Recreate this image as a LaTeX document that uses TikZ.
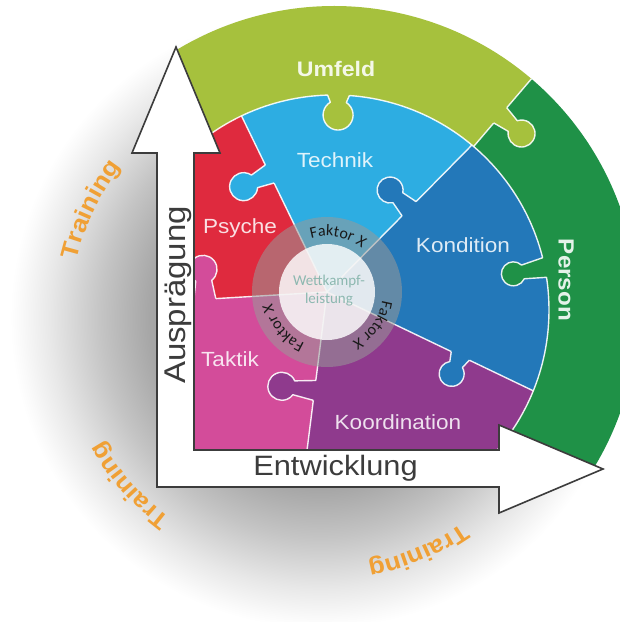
\documentclass[tikz,border=0pt]{standalone}
\usepackage{fontspec}
\newfontfamily\lblfont{Liberation Sans}[FakeStretch=1.1]
\newfontfamily\fxfont{Carlito}
\usetikzlibrary{calc,decorations.text}

\definecolor{umfeld}{HTML}{A6C13D}
\definecolor{person}{HTML}{1F9147}
\definecolor{technik}{HTML}{2DADE2}
\definecolor{kondition}{HTML}{2378B9}
\definecolor{koordination}{HTML}{8F3A8D}
\definecolor{taktik}{HTML}{D34C9A}
\definecolor{psyche}{HTML}{DF2A3E}
\definecolor{training}{HTML}{F0A035}
\definecolor{axisgray}{HTML}{3C3C3C}
\definecolor{wkgray}{HTML}{8CB8B0}

\pgfdeclareradialshading{ringshadow}{\pgfpoint{0bp}{0bp}}{color(0bp)=(black!42); color(13.7bp)=(black!35); color(17.7bp)=(black!23); color(21.8bp)=(black!9); color(24.2bp)=(black!2); color(25bp)=(white); color(50bp)=(white)}

\begin{document}
\begin{tikzpicture}[x=1pt, y=1pt,
    seamline/.style={white, line width=1.4pt, opacity=.9},
    piecetext/.style={font=\lblfont\fontsize{20.5}{20.5}\selectfont},
    ringtext/.style={font=\lblfont\bfseries\fontsize{21}{21}\selectfont},
    axistext/.style={text=axisgray, font=\lblfont\fontsize{28}{28}\selectfont}]
    % knob: frame, position, offset, radius, half neck, colour
    \def\knob#1#2#3#4#5#6{
        \begin{scope}[#1]
            \fill[#6] ({#2-#5-3},-2) -- ({#2-#5-3},0) -- ({#2-#5},{#3-sqrt(#4*#4-#5*#5)})
                arc[start angle={180+acos(#5/#4)}, end angle={-acos(#5/#4)}, radius=#4]
                -- ({#2+#5+3},0) -- ({#2+#5+3},-2) -- cycle;
            \draw[seamline, line join=round] ({#2-#5-3},0) -- ({#2-#5},{#3-sqrt(#4*#4-#5*#5)})
                arc[start angle={180+acos(#5/#4)}, end angle={-acos(#5/#4)}, radius=#4]
                -- ({#2+#5+3},0);
        \end{scope}}
    % inner and outer radius
    \def\ri{215}
    \def\ro{304}

    \path[use as bounding box] (0,0) rectangle (620,622);
    \clip (0,0) rectangle (620,622);
    \coordinate (O) at (334,312);
    \coordinate (F) at (327,330);
    \coordinate (T) at (320,304);

    \shade[shading=ringshadow] (T) circle (310);

    \begin{scope}
        \clip (176,575) -- (176,640) -- (640,640) -- (640,153) -- (157,153) -- (157,469) -- cycle;
        \fill[umfeld] ($(O)+(49.5:\ri)$) arc[start angle=49.5, end angle=150, radius=\ri]
            -- ($(O)+(150:\ro)$) arc[start angle=150, end angle=49.5, radius=\ro] -- cycle;
        \fill[person] ($(O)+(-40:\ri)$) arc[start angle=-40, end angle=49.5, radius=\ri]
            -- ($(O)+(49.5:\ro)$) arc[start angle=49.5, end angle=-40, radius=\ro] -- cycle;
        \begin{scope}
            \clip (O) circle (\ri);
            \fill[psyche] (F) -- ($(F)+(115.9:600)$) -- ($(F)+(183.4:600)$) -- cycle;
            \fill[technik] (F) -- ($(F)+(45.4:600)$) -- ($(F)+(115.9:600)$) -- cycle;
            \fill[kondition] (F) -- ($(F)+(-25.6:600)$) -- ($(F)+(45.4:600)$) -- cycle;
            \fill[koordination] (F) -- ($(F)+(-97.2:600)$) -- ($(F)+(-25.6:600)$) -- cycle;
            \fill[taktik] (F) -- ($(F)+(183.4:600)$) -- ($(F)+(262.8:600)$) -- cycle;
            \foreach \a in {115.9,45.4,-25.6,-97.2,183.4}
                \draw[seamline] (F) -- ++(\a:400);
        \end{scope}
        \draw[seamline] (O) circle (\ri);
        \draw[seamline] ($(O)+(49.5:\ri)$) -- ($(O)+(49.5:\ro)$);

        \knob{shift={(F)}, rotate=115.9}{131.2}{29}{14}{7}{technik}
        \knob{shift={(F)}, rotate=45.4}{116.9}{26.7}{13}{7}{kondition}
        \knob{shift={(F)}, rotate=-25.6, yscale=-1}{147.8}{20}{12.5}{7}{kondition}
        \knob{shift={(F)}, rotate=-97.2, yscale=-1}{99.2}{33}{14}{7}{koordination}
        \knob{shift={(F)}, rotate=183.4, yscale=-1}{122.4}{30}{14}{8}{taktik}
        \knob{shift={(O)}, rotate=49.5, yscale=-1}{256}{28}{13.5}{7}{umfeld}
        \knob{shift={($(O)+(88.8:\ri)$)}, rotate=-1.2, yscale=-1}{0}{20}{15}{8}{umfeld}
        \knob{shift={($(O)+(11.4:\ri)$)}, rotate=-78.6, yscale=-1}{0}{32}{12}{7}{person}
    \end{scope}

    % centre
    \fill[gray!80!white, opacity=.55] (F) circle (75);
    \fill[white, opacity=.82] (F) circle (48);
    \foreach \c in {79,219,-36}
        \path[decorate, decoration={text along path, text align=center, text color=black!90,
            text={|\fxfont\fontsize{16}{16}\selectfont|Faktor X}}]
            ($(F)+(\c+40:56)$) arc[start angle=\c+40, end angle=\c-40, radius=56];
    \node (wk) at (329,331) [align=center, text=wkgray, font=\fxfont\fontsize{15}{18}\selectfont] {Wettkampf-\\leistung};

    \node (umfeldtext) at (336,553) [ringtext, text=umfeld!12!white] {Umfeld};
    \node (persontext) at (566,342) [ringtext, rotate=-90, text=person!12!white, font=\lblfont\bfseries\fontsize{22}{22}\selectfont] {Person};
    \node (technik) at (335,461.5) [piecetext, text=technik!15!white] {Technik};
    \node (psyche) at (240,394) [piecetext, text=psyche!15!white] {Psyche};
    \node (kondition) at (463,376.5) [piecetext, text=kondition!15!white] {Kondition};
    \node (taktik) at (230,262.5) [piecetext, text=taktik!15!white] {Taktik};
    \node (koordination) at (398,199.5) [piecetext, text=koordination!15!white] {Koordination};

    % axes
    \draw[axisgray, line width=1.6pt, fill=white] (157,135) -- (499,135) -- (499,109) -- (603,153) -- (499,197)
        -- (499,172) -- (194,172) -- (194,469) -- (220,469) -- (176,575) -- (132,469) -- (157,469) -- cycle;
    \node (entw) at (335.5,146) [axistext, anchor=base] {Entwicklung};
    \node (auspr) at (185,327) [axistext, anchor=base, rotate=90, font=\lblfont\fontsize{30}{30}\selectfont] {Ausprägung};

    % training
    \foreach \c in {154.7,221.4,292.9}
        \path[decorate, decoration={text along path, text align=center, text color=training,
            text={|\lblfont\bfseries\fontsize{24}{24}\selectfont|Training}}]
            ($(T)+(\c+25:250)$) arc[start angle=\c+25, end angle=\c-25, radius=250];
\end{tikzpicture}
\end{document}
